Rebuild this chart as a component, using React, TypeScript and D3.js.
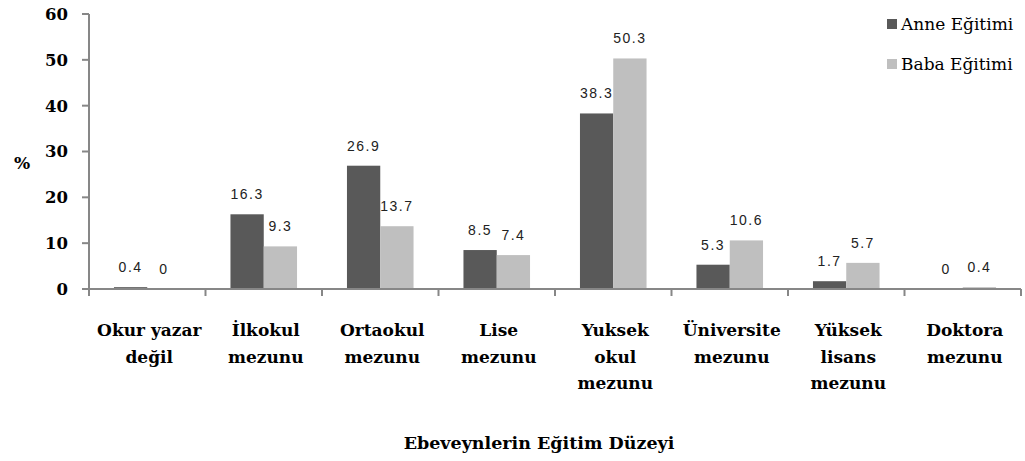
import React from "react";
import * as d3 from "d3";

const categories: string[][] = [
  ["Okur yazar", "değil"],
  ["İlkokul", "mezunu"],
  ["Ortaokul", "mezunu"],
  ["Lise", "mezunu"],
  ["Yuksek", "okul", "mezunu"],
  ["Üniversite", "mezunu"],
  ["Yüksek", "lisans", "mezunu"],
  ["Doktora", "mezunu"],
];
const seriesNames = ["Anne Eğitimi", "Baba Eğitimi"];
const anneValues = [0.4, 16.3, 26.9, 8.5, 38.3, 5.3, 1.7, 0];
const babaValues = [0, 9.3, 13.7, 7.4, 50.3, 10.6, 5.7, 0.4];
const yTicks = [0, 10, 20, 30, 40, 50, 60];
const colors = ["#595959", "#bfbfbf"];
const xTitle = "Ebeveynlerin Eğitim Düzeyi";
const yTitle = "%";

const W = 1025;
const H = 461;
const left = 89;
const right = 1021;
const top = 14;
const bottom = 289;

export default function App() {
  const keys = categories.map((c, i) => String(i));
  const x0 = d3.scaleBand<string>().domain(keys).range([left, right]).paddingInner(0).paddingOuter(0);
  const x1 = d3
    .scaleBand<string>()
    .domain(seriesNames)
    .range([0, x0.bandwidth()])
    .paddingInner(0)
    .paddingOuter(0.75);
  const y = d3.scaleLinear().domain([0, 60]).range([bottom, top]);
  const seriesValues = [anneValues, babaValues];
  const axisColor = "#878787";
  const serifBold = "'DejaVu Serif', serif";

  return (
    <div style={{ position: "absolute", left: 0, top: 0 }}>
      <svg width={W} height={H} style={{ display: "block", background: "#fff" }}>
        {/* bars */}
        {keys.map((k, i) =>
          seriesNames.map((s, j) => {
            const v = seriesValues[j][i];
            const bx = (x0(k) as number) + (x1(s) as number);
            return (
              <rect
                key={k + s}
                x={bx}
                y={y(v)}
                width={x1.bandwidth()}
                height={Math.max(0, bottom - y(v))}
                fill={colors[j]}
              />
            );
          })
        )}
        {/* data labels */}
        {keys.map((k, i) =>
          seriesNames.map((s, j) => {
            const v = seriesValues[j][i];
            const cx = (x0(k) as number) + (x1(s) as number) + x1.bandwidth() / 2;
            return (
              <text
                key={"l" + k + s}
                x={cx}
                y={y(v) - 15}
                textAnchor="middle"
                fontFamily="'Liberation Sans', Arial, sans-serif"
                fontSize={14}
                letterSpacing={1.5}
                fill="#222"
              >
                {String(v)}
              </text>
            );
          })
        )}
        {/* y axis */}
        <line x1={left} x2={left} y1={top} y2={bottom} stroke={axisColor} strokeWidth={2} />
        {yTicks.map((t) => (
          <g key={"yt" + t}>
            <line x1={left - 7} x2={left} y1={y(t)} y2={y(t)} stroke={axisColor} strokeWidth={2} />
            <text
              x={68}
              y={y(t)}
              dy="0.36em"
              textAnchor="end"
              fontFamily={serifBold}
              fontWeight="bold"
              fontSize={16.5}
              fill="#000"
            >
              {t}
            </text>
          </g>
        ))}
        <text x={22} y={163} dy="0.36em" textAnchor="middle" fontFamily={serifBold} fontWeight="bold" fontSize={17}>
          {yTitle}
        </text>
        {/* x axis */}
        <line x1={left - 7} x2={right} y1={bottom} y2={bottom} stroke={axisColor} strokeWidth={2} />
        {[...keys.map((k) => x0(k) as number), right].map((tx, i) => (
          <line key={"xt" + i} x1={tx} x2={tx} y1={bottom} y2={bottom + 7} stroke={axisColor} strokeWidth={2} />
        ))}
        {categories.map((lines, i) => {
          const cx = (x0(keys[i]) as number) + x0.bandwidth() / 2;
          return (
            <text
              key={"cat" + i}
              textAnchor="middle"
              fontFamily={serifBold}
              fontWeight="bold"
              fontSize={17}
              fill="#000"
            >
              {lines.map((ln, li) => (
                <tspan key={li} x={cx + 2} y={336 + li * 26.5}>
                  {ln}
                </tspan>
              ))}
            </text>
          );
        })}
        <text x={539} y={449} textAnchor="middle" fontFamily={serifBold} fontWeight="bold" fontSize={17.5}>
          {xTitle}
        </text>
        {/* legend */}
        {seriesNames.map((s, j) => (
          <g key={"lg" + s}>
            <rect x={887} y={19 + j * 40} width={10} height={10} fill={colors[j]} />
            <text x={901} y={30 + j * 40} fontFamily={serifBold} fontSize={17} fill="#000">
              {s}
            </text>
          </g>
        ))}
      </svg>
    </div>
  );
}
